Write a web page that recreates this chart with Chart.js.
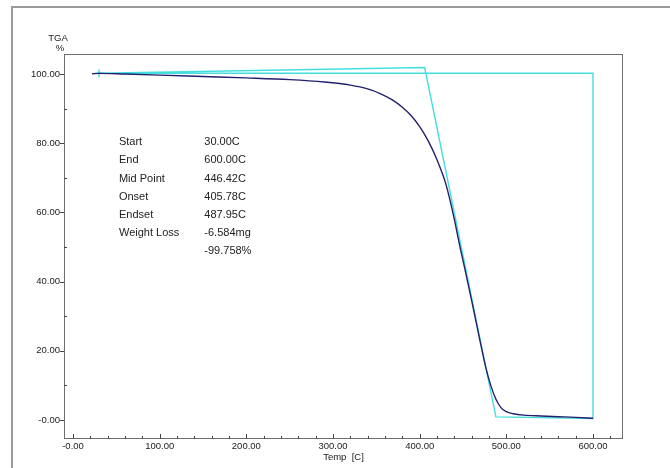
<!DOCTYPE html>
<html>
<head>
<meta charset="utf-8">
<script src="https://cdn.jsdelivr.net/npm/chart.js@4.4.1/dist/chart.umd.min.js"></script>
<style>
  html, body { margin: 0; padding: 0; background: #fff; }
  canvas { display: block; }
</style>
</head>
<body>
<canvas id="tga" width="670" height="468"></canvas>
<script>
// TGA curve (temperature C, weight %)
const tempC  = [22, 30, 60, 100, 150, 200, 250, 290, 320, 340, 355, 368, 380, 390, 400, 410, 420, 430, 440, 446, 452, 460, 468, 476, 482, 488, 494, 500, 508, 520, 540, 560, 580, 600];
const tgaPct = [100.1, 100.2, 100.0, 99.7, 99.3, 98.9, 98.4, 97.7, 96.8, 95.7, 94.3, 92.6, 90.4, 88.0, 84.8, 80.6, 75.2, 68.4, 58.0, 50.6, 43.8, 34.5, 24.8, 15.5, 10.0, 6.0, 3.5, 2.4, 1.8, 1.4, 1.15, 0.95, 0.75, 0.5];

// analysis construction lines (onset / endset tangents + box)
const tanX = [30, 405.78, 487.95, 600, 600, 30];
const tanY = [100.25, 101.9, 0.9, 0.45, 100.25, 100.25];

// axes
const xMinorStep = 20;
const xMajor = [0, 100, 200, 300, 400, 500, 600];
const xLabels = ['-0.00', '100.00', '200.00', '300.00', '400.00', '500.00', '600.00'];
const yMajor = [0, 20, 40, 60, 80, 100];
const yLabels = ['-0.00', '20.00', '40.00', '60.00', '80.00', '100.00'];
const yMinor = [10, 30, 50, 70, 90];

// result table
const resNames  = ['Start', 'End', 'Mid Point', 'Onset', 'Endset', 'Weight Loss', ''];
const resValues = ['30.00C', '600.00C', '446.42C', '405.78C', '487.95C', '-6.584mg', '-99.758%'];

const FONT = '"Liberation Sans", Arial, sans-serif';
const TXT = '#222';

const framePlugin = {
  id: 'frame',
  beforeDraw(chart) {
    const c = chart.ctx;
    c.save();
    c.fillStyle = '#fff';
    c.fillRect(0, 0, chart.width, chart.height);
    // outer panel edge
    c.strokeStyle = '#9a9a9a';
    c.lineWidth = 2;
    c.beginPath();
    c.moveTo(12, chart.height);
    c.lineTo(12, 7);
    c.lineTo(chart.width, 7);
    c.stroke();
    c.restore();
  },
  afterDraw(chart) {
    const c = chart.ctx, a = chart.chartArea;
    const xs = chart.scales.x, ys = chart.scales.y;
    c.save();
    c.strokeStyle = '#6e6e6e';
    c.lineWidth = 1;
    c.strokeRect(a.left + 0.5, a.top + 0.5, a.right - a.left - 1, a.bottom - a.top - 1);

    // x ticks point inward
    c.strokeStyle = '#444';
    c.beginPath();
    xs.ticks.forEach(t => {
      const px = Math.round(xs.getPixelForValue(t.value)) + 0.5;
      const len = xMajor.includes(t.value) ? 5 : 3;
      c.moveTo(px, a.bottom);
      c.lineTo(px, a.bottom - len);
    });
    // y ticks: major outward, minor inward
    yMajor.forEach(v => {
      const py = Math.round(ys.getPixelForValue(v)) + 0.5;
      c.moveTo(a.left - 4, py);
      c.lineTo(a.left, py);
    });
    yMinor.forEach(v => {
      const py = Math.round(ys.getPixelForValue(v)) + 0.5;
      c.moveTo(a.left, py);
      c.lineTo(a.left + 3, py);
    });
    c.stroke();

    // axis titles
    c.fillStyle = TXT;
    c.font = '9.5px ' + FONT;
    c.textAlign = 'center';
    c.textBaseline = 'middle';
    c.fillText('TGA', 58, 38);
    c.fillText('%', 60, 48);
    c.fillText('Temp  [C]', (a.left + a.right) / 2, 457);

    // results block
    c.font = '11px ' + FONT;
    c.textAlign = 'left';
    const x0 = xs.getPixelForValue(53);
    const x1 = xs.getPixelForValue(151.5);
    resNames.forEach((n, i) => {
      const py = ys.getPixelForValue(80.3 - i * 5.26);
      if (n) c.fillText(n, x0, py);
      c.fillText(resValues[i], x1, py);
    });
    c.restore();
  }
};

new Chart(document.getElementById('tga'), {
  type: 'scatter',
  data: {
    datasets: [
      {
        label: 'analysis',
        data: tanX.map((x, i) => ({ x, y: tanY[i] })),
        showLine: true,
        borderColor: '#45dede',
        borderWidth: 1.4,
        pointRadius: tanX.map((x, i) => i === 0 ? 4 : 0),
        pointStyle: 'cross',
        pointBorderColor: '#45dede',
        pointBorderWidth: 1.4,
        order: 2
      },
      {
        label: 'TGA',
        data: tempC.map((x, i) => ({ x, y: tgaPct[i] })),
        showLine: true,
        borderColor: '#23206b',
        borderWidth: 1.4,
        pointRadius: 0,
        cubicInterpolationMode: 'monotone',
        order: 1
      }
    ]
  },
  options: {
    responsive: false,
    animation: false,
    devicePixelRatio: 1,
    layout: { padding: { left: 0, right: 47, top: 54, bottom: 0 } },
    plugins: { legend: { display: false }, tooltip: { enabled: false } },
    scales: {
      x: {
        type: 'linear',
        min: -10.4,
        max: 634.6,
        afterFit: s => { s.height = 29; },
        afterBuildTicks: s => {
          const t = [];
          for (let v = 0; v <= 620; v += xMinorStep) t.push({ value: v });
          s.ticks = t;
        },
        grid: { display: false, drawTicks: false },
        border: { display: false },
        ticks: {
          autoSkip: false,
          maxRotation: 0,
          padding: 2,
          color: TXT,
          font: { family: FONT, size: 9.5 },
          callback: v => { const k = xMajor.indexOf(v); return k >= 0 ? xLabels[k] : ''; }
        }
      },
      y: {
        type: 'linear',
        min: -5.5,
        max: 105.8,
        afterFit: s => { s.width = 64; },
        afterBuildTicks: s => { s.ticks = yMajor.map(v => ({ value: v })); },
        grid: { display: false, drawTicks: false },
        border: { display: false },
        ticks: {
          autoSkip: false,
          padding: 4,
          color: TXT,
          font: { family: FONT, size: 9.5 },
          callback: v => { const k = yMajor.indexOf(v); return k >= 0 ? yLabels[k] : ''; }
        }
      }
    }
  },
  plugins: [framePlugin]
});
</script>
</body>
</html>
